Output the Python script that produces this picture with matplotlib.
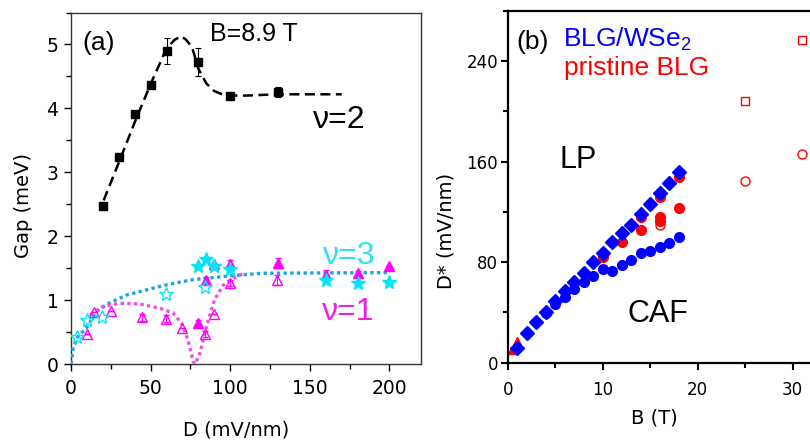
import matplotlib
matplotlib.use("Agg")
import matplotlib.pyplot as plt
from matplotlib.ticker import MultipleLocator

plt.rcParams['mathtext.fontset'] = 'custom'
plt.rcParams['mathtext.rm'] = 'Liberation Sans'

# ---------------- Panel (a) data ----------------
nu2_D = [20, 30, 40, 50, 60, 80, 100, 130]
nu2_G = [2.47, 3.24, 3.91, 4.37, 4.90, 4.73, 4.19, 4.26]
nu2_err = [0, 0, 0, 0.05, 0.20, 0.22, 0.05, 0.08]
nu2_fit_D = [20.5, 30, 40, 50, 60, 65, 69, 72, 76, 80, 85, 90, 95, 100, 110, 130, 170]
nu2_fit_G = [2.56, 3.15, 3.78, 4.38, 4.94, 5.07, 5.13, 5.08, 4.96, 4.62, 4.39, 4.27, 4.22, 4.20, 4.20, 4.22, 4.22]

nu3_open_D = [3.6, 9.8, 19.2, 59.6, 84.4]
nu3_open_G = [0.43, 0.69, 0.73, 1.10, 1.21]
nu3_fill_D = [80, 84.5, 90, 100, 160, 180, 200]
nu3_fill_G = [1.53, 1.65, 1.53, 1.48, 1.31, 1.27, 1.29]
nu3_fit_D = [0, 1.5, 4.4, 9.8, 16, 24.5, 35, 47.5, 60, 76.7, 100, 120, 200]
nu3_fit_G = [0, 0.27, 0.43, 0.57, 0.82, 0.96, 1.08, 1.16, 1.24, 1.32, 1.38, 1.42, 1.43]

nu1_open_D = [9.8, 14.6, 24.9, 44.7, 59.6, 69.8, 84.4, 89.7, 99.7, 129.6]
nu1_open_G = [0.47, 0.82, 0.83, 0.73, 0.71, 0.57, 0.47, 0.78, 1.27, 1.31]
nu1_open_err = [0, 0, 0, 0.05, 0.05, 0, 0.05, 0, 0.05, 0.08]
nu1_fill_D = [80, 84.5, 90, 100, 130, 160, 180, 200]
nu1_fill_G = [0.64, 1.31, 1.56, 1.57, 1.58, 1.39, 1.42, 1.53]
nu1_fill_err = [0.05, 0.05, 0, 0.05, 0.08, 0.08, 0.03, 0]
nu1_fit_D = [11.9, 20, 30.7, 43, 56, 64, 69.4, 73.5, 76.7, 78, 81, 85, 90, 95.5, 101.8, 106, 108]
nu1_fit_G = [0.77, 0.90, 0.95, 0.94, 0.87, 0.80, 0.64, 0.375, 0.04, 0.0, 0.17, 0.58, 1.0, 1.23, 1.34, 1.39, 1.41]

# ---------------- Panel (b) data ----------------
wse_dia_B = list(range(1, 19))
wse_dia_D = [11.4, 23.9, 32.6, 40.6, 49.3, 57.3, 64.5, 71.6, 80.4, 87.5, 95.8, 103, 110, 118, 126.3, 134.8, 142.8, 151.5]
wse_cir_B = list(range(4, 19))
wse_cir_D = [39.3, 46.5, 52.0, 58.4, 64.5, 69.0, 74.3, 73.2, 77.7, 81.7, 87.0, 89.1, 91.8, 95.0, 99.8]

pr_fill_B = [10, 12, 14, 14, 16, 16, 16, 18, 18]
pr_fill_D = [84, 96, 106, 116, 113, 116, 132, 123, 148]
pr_tri_B = [0.4, 1]
pr_tri_D = [10, 17]
pr_opencir_B = [16, 25, 31]
pr_opencir_D = [110, 145, 166]
pr_opensq_B = [25, 31]
pr_opensq_D = [208, 257]

# ---------------- Figure ----------------
fig = plt.figure(figsize=(8.1, 4.41), dpi=100)
tickfont = 'DejaVu Sans'
annfont = 'Liberation Sans'

CYAN = '#00e8f8'
CYANLINE = '#1aa3e8'
MAG = '#ff00ff'
MAGLINE = '#f050e0'

ax1 = fig.add_axes([71/810, 1-364/441, (421.3-71)/810, (364-12.5)/441])
ax1.plot(nu2_fit_D, nu2_fit_G, color='black', lw=1.8, ls=(0, (4, 2.2)), zorder=2)
ax1.plot(nu3_fit_D, nu3_fit_G, color=CYANLINE, lw=2.4, ls=(0, (1, 1)), zorder=3)
ax1.plot(nu1_fit_D, nu1_fit_G, color=MAGLINE, lw=2.4, ls=(0, (1, 1)), zorder=3)

ax1.errorbar(nu2_D, nu2_G, yerr=nu2_err, fmt='s', color='black', ms=5.5,
             capsize=2.5, elinewidth=0.8, capthick=0.8, zorder=4)
ax1.errorbar(nu1_open_D, nu1_open_G, yerr=nu1_open_err, fmt='^', mfc='none', mec=MAG,
             ecolor=MAG, ms=7.5, mew=1.0, capsize=2.5, elinewidth=0.8, zorder=4)
ax1.errorbar(nu1_fill_D, nu1_fill_G, yerr=nu1_fill_err, fmt='^', color=MAG,
             ms=7.5, capsize=2.5, elinewidth=0.8, zorder=4)
ax1.plot(nu3_open_D, nu3_open_G, '*', mfc='none', mec=CYAN, ms=10, mew=1.0, ls='none', zorder=5)
ax1.plot(nu3_fill_D, nu3_fill_G, '*', color=CYAN, ms=10, ls='none', zorder=5)

ax1.set_xlim(0, 220)
ax1.set_ylim(0, 5.5)
ax1.xaxis.set_major_locator(MultipleLocator(50))
ax1.xaxis.set_minor_locator(MultipleLocator(25))
ax1.yaxis.set_major_locator(MultipleLocator(1))
ax1.yaxis.set_minor_locator(MultipleLocator(0.5))
ax1.tick_params(which='both', direction='out', top=False, right=False, labelsize=13.5)
ax1.tick_params(axis='x', pad=6)
ax1.tick_params(axis='y', pad=4)
ax1.tick_params(which='major', length=5, width=1)
ax1.tick_params(which='minor', length=3.5, width=1)
for s in ax1.spines.values():
    s.set_linewidth(1.0)
    s.set_color('#333333')
for lab in ax1.get_xticklabels() + ax1.get_yticklabels():
    lab.set_fontfamily(tickfont)
ax1.set_xlabel('D (mV/nm)', fontsize=14, family=tickfont)
ax1.set_ylabel('Gap (meV)', fontsize=14, family=tickfont)
ax1.xaxis.set_label_coords(0.4725, -0.162)
ax1.yaxis.set_label_coords(-0.108, 0.45)

ax1.text(6.9, 4.91, '(a)', fontsize=19, family=annfont, va='baseline')
ax1.text(87.1, 5.06, 'B=8.9 T', fontsize=18, family=annfont, va='baseline')
ax1.text(151.7, 3.70, 'ν=2', fontsize=23, family=annfont, va='baseline', color='black')
ax1.text(158.2, 1.57, 'ν=3', fontsize=23, family=annfont, va='baseline', color='#30e0f0')
ax1.text(157.9, 0.69, 'ν=1', fontsize=23, family=annfont, va='baseline', color='#f020e0')

# Panel (b)
ax2 = fig.add_axes([507.7/810, 1-362.7/441, (35*9.5)/810, (362.7-11)/441])
ax2.plot(pr_tri_B, pr_tri_D, '^', color='red', ms=6, ls='none', zorder=2)
ax2.plot(pr_fill_B, pr_fill_D, 'o', color='red', ms=7, ls='none', zorder=2)
ax2.plot(pr_opencir_B, pr_opencir_D, 'o', mfc='none', mec='red', ms=6.5, mew=1.0, ls='none', zorder=2)
ax2.plot(pr_opensq_B, pr_opensq_D, 's', mfc='none', mec='red', ms=6, mew=1.0, ls='none', zorder=2)
ax2.plot(wse_cir_B, wse_cir_D, 'o', color='#0000ff', ms=7, ls='none', zorder=3)
ax2.plot(wse_dia_B, wse_dia_D, 'D', color='#0000ff', ms=7.5, ls='none', zorder=4)

ax2.set_xlim(0, 35)
ax2.set_ylim(0, 280)
ax2.xaxis.set_major_locator(MultipleLocator(10))
ax2.xaxis.set_minor_locator(MultipleLocator(5))
ax2.yaxis.set_major_locator(MultipleLocator(80))
ax2.yaxis.set_minor_locator(MultipleLocator(40))
ax2.tick_params(which='both', direction='out', top=False, right=False, labelsize=12)
ax2.tick_params(axis='x', pad=8)
ax2.tick_params(axis='y', pad=2)
ax2.tick_params(which='major', length=5, width=1.5)
ax2.tick_params(which='minor', length=3.5, width=1.5)
for s in ax2.spines.values():
    s.set_linewidth(1.6)
    s.set_color('black')
for lab in ax2.get_xticklabels() + ax2.get_yticklabels():
    lab.set_fontfamily(tickfont)
ax2.set_xlabel('B (T)', fontsize=14, family=tickfont)
ax2.set_ylabel('D* (mV/nm)', fontsize=14, family=tickfont)
ax2.xaxis.set_label_coords(0.44, -0.129)
ax2.yaxis.set_label_coords(-0.158, 0.3745)

ax2.text(0.95, 249.4, '(b)', fontsize=19, family=annfont, va='baseline')
ax2.text(5.85, 251.5, r'BLG/WSe$_{\mathrm{2}}$', fontsize=19, family=annfont, va='baseline', color='#0000ff')
ax2.text(5.96, 229, 'pristine BLG', fontsize=19, family=annfont, va='baseline', color='red')
ax2.text(5.5, 155, 'LP', fontsize=22, family=annfont, va='baseline')
ax2.text(12.56, 32.6, 'CAF', fontsize=22, family=annfont, va='baseline')

fig.savefig('out.png', dpi=100)
